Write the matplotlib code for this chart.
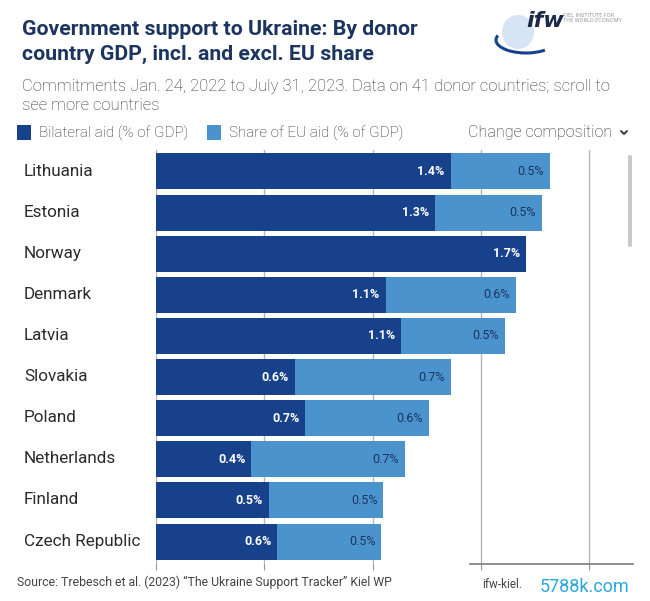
import matplotlib
matplotlib.use("Agg")
import matplotlib.pyplot as plt
from matplotlib.patches import FancyBboxPatch, Rectangle, Arc, Ellipse
from matplotlib.lines import Line2D

countries = ["Lithuania", "Estonia", "Norway", "Denmark", "Latvia",
             "Slovakia", "Poland", "Netherlands", "Finland", "Czech Republic"]
bilateral = [1.36, 1.29, 1.71, 1.06, 1.13, 0.64, 0.69, 0.44, 0.52, 0.56]
eu_share = [0.46, 0.49, 0.0, 0.60, 0.48, 0.72, 0.57, 0.71, 0.53, 0.48]
xticks = [0, 0.5, 1.0, 1.5, 2.0]

W, H = 650, 601
DARK = "#17428b"
LIGHT = "#4b93cd"
NAVY = "#1c3560"

fig = plt.figure(figsize=(W / 100, H / 100), dpi=100)
fig.patch.set_facecolor("white")

def fx(x):
    return x / W

def fy(y):
    return 1 - y / H

ax_l, ax_r, ax_t, ax_b = 156, 620, 150, 563
ax = fig.add_axes([fx(ax_l), fy(ax_b), fx(ax_r - ax_l), (ax_b - ax_t) / H])
px_per_unit = 216.6
ax.set_xlim(0, (ax_r - ax_l) / px_per_unit)
ax.set_ylim(len(countries) - 0.48, -0.52)

ypos = list(range(len(countries)))
bh = 0.876
ax.barh(ypos, bilateral, height=bh, color=DARK, zorder=3)
ax.barh(ypos, eu_share, left=bilateral, height=bh, color=LIGHT, zorder=3)

pad = 6 / px_per_unit
for i, (b, e) in enumerate(zip(bilateral, eu_share)):
    ax.text(b - pad, i, f"{b:.1f}%", ha="right", va="center", color="white",
            fontsize=9, fontweight="bold", family="Roboto", zorder=4)
    if e > 0:
        ax.text(b + e - pad, i, f"{e:.1f}%", ha="right", va="center", color=NAVY,
                fontsize=9, family="Roboto", zorder=4)

ax.set_xticks(xticks)
ax.xaxis.grid(True, color="#b5b5b5", linewidth=1, zorder=0)
ax.set_axisbelow(True)
ax.tick_params(axis="x", length=5, color="#999999", labelbottom=False)
ax.tick_params(axis="y", length=0, labelleft=False)
for s in ax.spines.values():
    s.set_visible(False)

# country labels
for i, c in enumerate(countries):
    y_px = 171.3 + i * 41.08
    fig.text(fx(24), fy(y_px), c, ha="left", va="center", fontsize=12.3,
             color="#2b2b2b", family="Roboto")

# bottom partial axis line
fig.add_artist(Line2D([fx(470), fx(633)], [fy(564), fy(564)], color="#7a7a7a", lw=1.2))

# scrollbar
fig.add_artist(FancyBboxPatch((fx(628), fy(247)), fx(4), (247 - 155) / H,
                              boxstyle="round,pad=0,rounding_size=0.003",
                              transform=fig.transFigure, color="#c9c9c9", lw=0))

# title
fig.text(fx(22), fy(35), "Government support to Ukraine: By donor", fontsize=15.3,
         fontweight="bold", color=NAVY, family="Roboto", ha="left", va="baseline")
fig.text(fx(22), fy(60), "country GDP, incl. and excl. EU share", fontsize=15.3,
         fontweight="bold", color=NAVY, family="Roboto", ha="left", va="baseline")

# subtitle
fig.text(fx(22), fy(91), "Commitments Jan. 24, 2022 to July 31, 2023. Data on 41 donor countries; scroll to",
         fontsize=12, color="#2f2f2f", family="Roboto", fontweight="light",
         ha="left", va="baseline")
fig.text(fx(22), fy(110), "see more countries", fontsize=12, color="#2f2f2f",
         family="Roboto", fontweight="light", ha="left", va="baseline")

# legend
fig.add_artist(Rectangle((fx(17), fy(140)), fx(14), 15 / H, transform=fig.transFigure,
                         color=DARK, lw=0))
fig.text(fx(39), fy(133), "Bilateral aid (% of GDP)", fontsize=11, color="#262626",
         family="Roboto", fontweight="light", ha="left", va="center")
fig.add_artist(Rectangle((fx(207), fy(140)), fx(14), 15 / H, transform=fig.transFigure,
                         color=LIGHT, lw=0))
fig.text(fx(229), fy(133), "Share of EU aid (% of GDP)", fontsize=11, color="#262626",
         family="Roboto", fontweight="light", ha="left", va="center")
fig.text(fx(468), fy(133), "Change composition", fontsize=11.6, color="#262626",
         family="Roboto", fontweight="light", ha="left", va="center")
# dropdown chevron (drawn as a shape)
fig.add_artist(Line2D([fx(621), fx(624), fx(627)], [fy(131), fy(134), fy(131)],
                      color="#2e2e2e", lw=1.3, solid_capstyle="round"))

# logo (approximation)
fig.add_artist(Ellipse((fx(518), fy(32)), fx(32), 34 / H, transform=fig.transFigure,
                       color="#d6e4f3", lw=0))
fig.add_artist(Arc((fx(526), fy(40)), fx(60), 26 / H, theta1=170, theta2=330,
                   transform=fig.transFigure, color=DARK, lw=2.2))
fig.text(fx(526), fy(21), "ifw", fontsize=16, fontweight="bold", style="italic",
         color="#1b2a4a", family="DejaVu Sans", ha="left", va="center")
fig.text(fx(563), fy(18), "KIEL INSTITUTE FOR\nTHE WORLD ECONOMY", fontsize=4,
         color="#9a9a9a", family="Roboto", ha="left", va="center", linespacing=1.1)

# footer
fig.text(fx(17), fy(582), "Source: Trebesch et al. (2023) \u201cThe Ukraine Support Tracker\u201d Kiel WP",
         fontsize=8.8, color="#444444", family="Roboto", ha="left", va="center")
fig.text(fx(482), fy(585), "ifw-kiel.", fontsize=8.5, color="#444444", family="Roboto",
         ha="left", va="center")
fig.text(fx(540), fy(587), "5788k.com", fontsize=13, color="#2aa7db", family="Roboto",
         ha="left", va="center")

fig.savefig("out.png", dpi=100, facecolor="white")
